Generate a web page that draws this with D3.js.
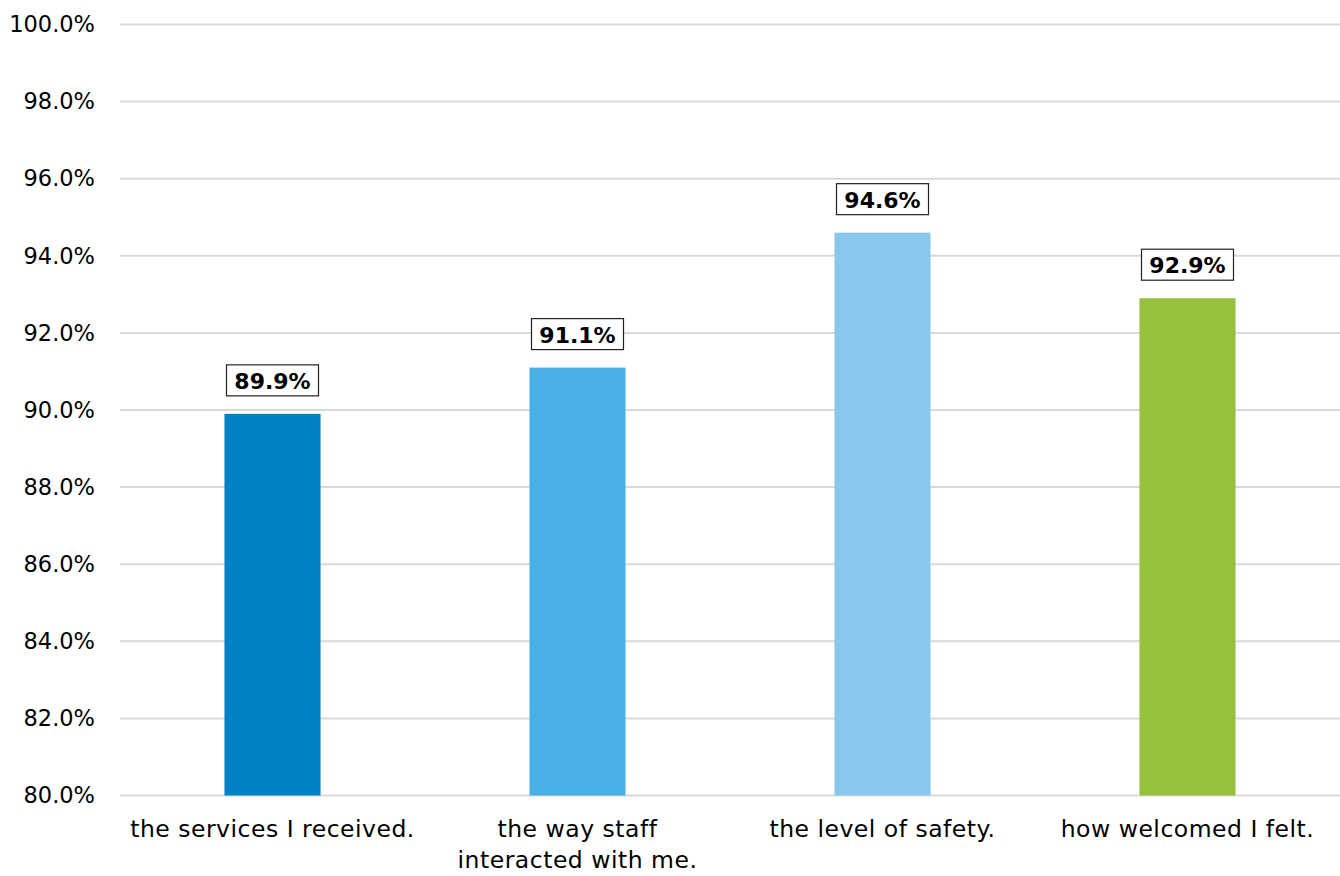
<!DOCTYPE html>
<html lang="en">
  <head>
    <meta charset="utf-8">
    <title>Satisfaction</title>
    <script src="https://d3js.org/d3.v7.min.js"></script>
    <style>
      body { margin: 0; background: #fff; }
      text { font-family: "Century Gothic", "DejaVu Sans", sans-serif; fill: #000; }
    </style>
  </head>
  <body>
    <div id="chart"></div>
    <script>

      var categories = [["the services I received."], ["the way staff", "interacted with me."], ["the level of safety."], ["how welcomed I felt."]];
      var values = [89.9, 91.1, 94.6, 92.9];
      var colors = ["#0082c6", "#48b0e6", "#89c7ec", "#97c13d"];
      var yTicks = [80, 82, 84, 86, 88, 90, 92, 94, 96, 98, 100];

      var width = 1340;
      var height = 876;
      var margin = {top: 24.5, left: 120, right: 0, bottom: 80.5};

      var svg = d3.select("#chart")
        .append("svg")
        .attr("width", width)
        .attr("height", height);

      var xScale = d3.scaleBand()
        .domain(d3.range(categories.length))
        .range([margin.left, width - margin.right])
        .paddingInner(0.685)
        .paddingOuter(0.3425);

      var yScale = d3.scaleLinear()
        .domain([80, 100])
        .range([height - margin.bottom, margin.top]);

      // gridlines
      svg.append("g")
        .selectAll("line")
        .data(yTicks)
        .enter()
        .append("line")
        .attr("x1", margin.left)
        .attr("x2", width - margin.right)
        .attr("y1", function(d){ return yScale(d); })
        .attr("y2", function(d){ return yScale(d); })
        .attr("stroke", "#d9d9d9")
        .attr("stroke-width", 2);

      var yAxis = svg.append("g")
        .attr("transform", `translate(${margin.left},0)`)
        .call(d3.axisLeft(yScale).tickValues(yTicks).tickSize(0).tickPadding(25)
          .tickFormat(function(d){ return d.toFixed(1) + "%"; }));
      yAxis.select(".domain").remove();
      yAxis.selectAll("text")
        .style("font-size", "22.5px")
        .style("font-family", null);

      svg.selectAll("rect.bar")
        .data(values)
        .enter()
        .append("rect")
        .attr("class", "bar")
        .attr("x", function(d, i){ return xScale(i); })
        .attr("y", function(d){ return yScale(d); })
        .attr("width", xScale.bandwidth())
        .attr("height", function(d){ return yScale(80) - yScale(d); })
        .attr("fill", function(d, i){ return colors[i]; });

      // value labels in boxes
      var labels = svg.selectAll("g.valueLabel")
        .data(values)
        .enter()
        .append("g")
        .attr("class", "valueLabel")
        .attr("transform", function(d, i){
          return `translate(${xScale(i) + xScale.bandwidth() / 2},${yScale(d) - 33})`;
        });

      labels.append("rect")
        .attr("x", -46)
        .attr("y", -16)
        .attr("width", 92)
        .attr("height", 31)
        .attr("fill", "#fff")
        .attr("stroke", "#222")
        .attr("stroke-width", 1.2);

      labels.append("text")
        .attr("text-anchor", "middle")
        .attr("dy", "0.37em")
        .style("font-size", "22px")
        .style("font-weight", "bold")
        .text(function(d){ return d.toFixed(1) + "%"; });

      // category labels
      var cat = svg.selectAll("text.cat")
        .data(categories)
        .enter()
        .append("text")
        .attr("class", "cat")
        .attr("text-anchor", "middle")
        .attr("x", function(d, i){ return xScale(i) + xScale.bandwidth() / 2; })
        .attr("y", 837)
        .style("font-size", "23.5px")
        .style("letter-spacing", "0.5px");

      cat.selectAll("tspan")
        .data(function(d){ return d; })
        .enter()
        .append("tspan")
        .attr("x", function(){ return this.parentNode.getAttribute("x"); })
        .attr("dy", function(d, i){ return i === 0 ? 0 : 31; })
        .text(function(d){ return d; });

    </script>
  </body>
</html>
